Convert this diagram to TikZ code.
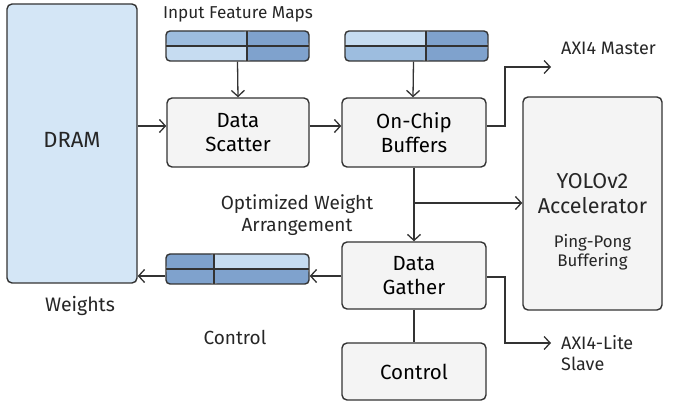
\documentclass[tikz,border=0pt]{standalone}
\usepackage{fontspec}
\setmainfont{Fira Sans}
\usetikzlibrary{arrows.meta,calc}
\definecolor{boxfill}{HTML}{F4F4F4}
\definecolor{edge}{HTML}{333333}
\definecolor{dramfill}{HTML}{D4E6F6}
\definecolor{blight}{HTML}{C6DCF1}
\definecolor{bmed}{HTML}{9DBDDF}
\definecolor{bdark}{HTML}{7FA2CD}
\tikzset{
  blk/.style={draw=edge, line width=1.4pt, fill=boxfill, rounded corners=5pt, align=center, inner sep=0pt},
  strip/.style={draw=edge, line width=1.4pt, rounded corners=4pt, minimum width=143pt, minimum height=30pt, inner sep=0pt},
  conn/.style={draw=edge, line width=1.3pt},
  arr/.style={conn, -{Straight Barb[length=6pt,width=13pt,line width=1.3pt]}},
  lbl/.style={align=center, text=black!85, inner sep=0pt},
}
\newcommand{\mkstrip}[8]{% name, cx, cy, split offset from left, TL, TR, BL, BR
  \node[strip, path picture={
    \fill[#5] (path picture bounding box.north west) rectangle ($(path picture bounding box.west)+(#4,0)$);
    \fill[#6] ($(path picture bounding box.north west)+(#4,0)$) rectangle (path picture bounding box.east);
    \fill[#7] (path picture bounding box.west) rectangle ($(path picture bounding box.south west)+(#4,0)$);
    \fill[#8] ($(path picture bounding box.west)+(#4,0)$) rectangle (path picture bounding box.south east);
    \draw[edge, line width=1.3pt] (path picture bounding box.west) -- (path picture bounding box.east);
    \draw[edge, line width=1.3pt] ($(path picture bounding box.north west)+(#4,0)$) -- ($(path picture bounding box.south west)+(#4,0)$);
  }] (#1) at (#2,#3) {};
}
\begin{document}
\begin{tikzpicture}[x=1pt,y=-1pt]
\useasboundingbox (0,0) rectangle (694,411);

% main blocks
\node[blk, fill=dramfill, minimum width=130pt, minimum height=279pt] (dram) at (72,143.5) {};
\node[lbl, font=\fontsize{22}{26}\selectfont] (dramt) at (72,140) {DRAM};
\node[blk, minimum width=142pt, minimum height=69pt, font=\fontsize{20.5}{24}\selectfont] (scatter) at (238,132.5) {Data\\Scatter};
\node[blk, minimum width=144pt, minimum height=69pt, font=\fontsize{20.5}{24}\selectfont] (buffers) at (414,132.5) {On-Chip\\Buffers};
\node[blk, minimum width=144pt, minimum height=67pt, font=\fontsize{20.5}{24}\selectfont] (gather) at (414,275.5) {Data\\Gather};
\node[blk, minimum width=144pt, minimum height=57pt, font=\fontsize{20.5}{24}\selectfont] (control) at (414,371.5) {Control};
\node[blk, minimum width=139pt, minimum height=213pt] (yolo) at (592.5,203.5) {};
\node[lbl, font=\fontsize{21.5}{25}\selectfont] (yolot) at (592.5,193.5) {YOLOv2\\Accelerator};
\node[lbl, font=\fontsize{16.8}{19}\selectfont] (pingpong) at (592.5,252) {Ping-Pong\\Buffering};

% data strips
\mkstrip{s1}{237.5}{46}{81pt}{bmed}{bdark}{blight}{bdark}
\mkstrip{s2}{416.5}{46}{81pt}{blight}{bdark}{bmed}{bdark}
\mkstrip{s3}{237.5}{269}{48pt}{bdark}{blight}{bdark}{bdark}

% labels
\node[lbl, font=\fontsize{17.2}{20}\selectfont] (ifm) at (238,14) {Input Feature Maps};
\node[lbl, font=\fontsize{18}{21}\selectfont, anchor=west] (axim) at (561,48) {AXI4 Master};
\node[lbl, font=\fontsize{18}{21}\selectfont, anchor=north west, align=left] (axis) at (561,335) {AXI4-Lite\\Slave};
\node[lbl, font=\fontsize{19}{22}\selectfont] (owa) at (297,215) {Optimized Weight\\Arrangement};
\node[lbl, font=\fontsize{19.5}{22}\selectfont] (wts) at (80,306) {Weights};
\node[lbl, font=\fontsize{19}{22}\selectfont] (ctl) at (235,337) {Control};

% connectors
\coordinate (m1) at (505,126);
\coordinate (m2) at (505,67);
\coordinate (mend) at (551,67);
\coordinate (l1) at (505,277);
\coordinate (l2) at (505,343);
\coordinate (lend) at (551,343);
\coordinate (br) at (414,203);

\draw[arr] (s1.south) -- (scatter.north);
\draw[arr] ($(s2.south)+(-3,0)$) -- ($(buffers.north)+(-1,0)$);
\draw[arr] (dram.east |- 0,126) -- (scatter.west |- 0,126);
\draw[arr] (scatter.east |- 0,126) -- (buffers.west |- 0,126);
\draw[arr] (buffers.east |- m1) -- (m1) -- (m2) -- (mend);
\draw[arr] (buffers.south) -- (gather.north);
\draw[arr] (br) -- (yolo.west |- br);
\draw[arr] (gather.east |- l1) -- (l1) -- (l2) -- (lend);
\draw[arr] (gather.west |- 0,276) -- (s3.east |- 0,276);
\draw[arr] (s3.west |- 0,276) -- (dram.east |- 0,276);
\draw[conn] (gather.south) -- (control.north);
\end{tikzpicture}
\end{document}
